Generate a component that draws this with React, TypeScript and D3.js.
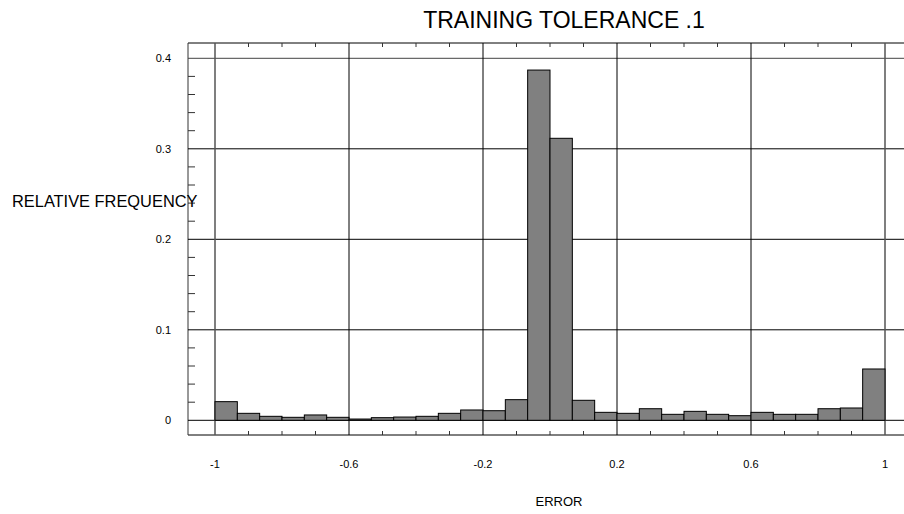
import React from "react";
import * as d3 from "d3";

// Histogram of training error, 30 bins across [-1, 1]
const binEdgesStart = -1;
const binWidth = 2 / 30;
const frequencies = [
  0.0206, 0.0077, 0.0044, 0.0033, 0.0059, 0.0033, 0.0014, 0.0029, 0.0036, 0.0044,
  0.0077, 0.0114, 0.0106, 0.0228, 0.387, 0.3116, 0.0221, 0.0088, 0.0077, 0.0128,
  0.0066, 0.0099, 0.0066, 0.0051, 0.0088, 0.0066, 0.0066, 0.0128, 0.0136, 0.0567,
];
const xTickValues = [-1, -0.6, -0.2, 0.2, 0.6, 1];
const yTickValues = [0, 0.1, 0.2, 0.3, 0.4];
const titleText = "TRAINING TOLERANCE .1";
const xLabel = "ERROR";
const yLabel = "RELATIVE FREQUENCY";

const W = 904;
const H = 514;
const FONT = "Liberation Sans, Arial, sans-serif";

export default function App() {
  const x = d3.scaleLinear().domain([-1, 1]).range([215, 885]);
  const y = d3.scaleLinear().domain([0, 0.4]).range([420.3, 58.3]);

  const frameLeft = 188;
  const frameTop = 43;
  const frameBottom = 435;

  // minor ticks every 0.1 on x and every 0.02 on y, skipping labelled positions
  const minorXTicks = d3
    .range(-10, 11)
    .map((i) => i / 10)
    .filter((v) => !xTickValues.some((t) => Math.abs(t - v) < 1e-9));
  const minorY = d3
    .range(0, 21)
    .map((i) => i / 50)
    .filter((v) => !yTickValues.some((t) => Math.abs(t - v) < 1e-9));

  return (
    <svg
      width={W}
      height={H}
      style={{ position: "absolute", left: 0, top: 0, background: "#fff" }}
      fontFamily={FONT}
    >
      <rect x={0} y={0} width={W} height={H} fill="#fff" />

      {/* frame */}
      <line x1={frameLeft} x2={W} y1={frameTop} y2={frameTop} stroke="#000" strokeWidth={1} />
      <line x1={frameLeft} x2={W} y1={frameBottom} y2={frameBottom} stroke="#000" strokeWidth={1} />
      <line x1={frameLeft} x2={frameLeft} y1={frameTop} y2={frameBottom} stroke="#333" strokeWidth={1} />

      {/* horizontal grid */}
      {yTickValues.map((v) => (
        <line key={"hg" + v} x1={frameLeft} x2={W} y1={y(v)} y2={y(v)} stroke={v === 0.4 ? "#444" : "#000"} strokeWidth={1} />
      ))}
      {/* vertical grid */}
      {xTickValues.map((v) => (
        <line
          key={"vg" + v}
          x1={x(v)}
          x2={x(v)}
          y1={frameTop}
          y2={frameBottom}
          stroke={v === -1 || v === 1 ? "#555" : "#000"}
          strokeWidth={v === -1 || v === 1 ? 1.5 : 1}
        />
      ))}

      {/* minor ticks */}
      {minorXTicks.map((v) => (
        <g key={"mx" + v}>
          <line x1={x(v)} x2={x(v)} y1={frameTop} y2={frameTop + 4} stroke="#333" />
          <line x1={x(v)} x2={x(v)} y1={frameBottom} y2={frameBottom - 4} stroke="#333" />
        </g>
      ))}
      {minorY.map((v) => (
        <line key={"my" + v} x1={frameLeft} x2={frameLeft + 7} y1={y(v)} y2={y(v)} stroke="#333" />
      ))}

      {/* bars */}
      {frequencies.map((f, i) => {
        const x0 = binEdgesStart + i * binWidth;
        const x1 = x0 + binWidth;
        return (
          <rect
            key={"b" + i}
            x={x(x0)}
            y={y(f)}
            width={x(x1) - x(x0)}
            height={y(0) - y(f)}
            fill="#808080"
            stroke="#000"
            strokeWidth={1}
          />
        );
      })}

      {/* tick labels */}
      {xTickValues.map((v) => (
        <text key={"xl" + v} x={x(v)} y={468} textAnchor="middle" fontSize={11} fill="#000">
          {String(v)}
        </text>
      ))}
      {yTickValues.map((v) => (
        <text key={"yl" + v} x={171} y={y(v) + 4} textAnchor="end" fontSize={11} fill="#000">
          {String(v)}
        </text>
      ))}

      <text x={564} y={28} textAnchor="middle" fontSize={23} fill="#000">
        {titleText}
      </text>
      <text x={559} y={506} textAnchor="middle" fontSize={13} fill="#000">
        {xLabel}
      </text>
      <text x={12} y={207} textAnchor="start" fontSize={16.4} fill="#000">
        {yLabel}
      </text>
    </svg>
  );
}
